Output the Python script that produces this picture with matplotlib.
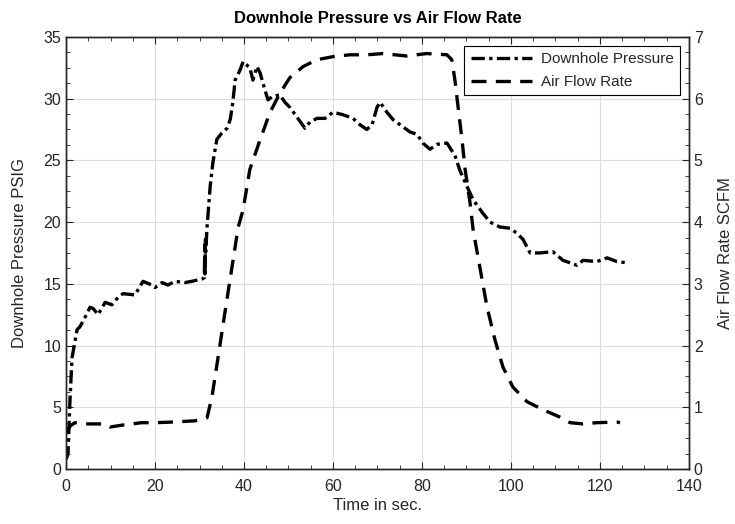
import numpy as np
import matplotlib.pyplot as plt
from matplotlib.ticker import AutoMinorLocator

plt.rcParams['font.family'] = ['Liberation Sans', 'DejaVu Sans']
TXT = '#262626'

# Downhole pressure [PSIG] vs time [s]
t_p = np.array([0, 0.45, 0.9, 1.35, 2.5, 3.1, 4.3, 5.4, 6.1, 7.2, 8.8, 10.3, 11.7, 12.8,
                15.5, 17.3, 19.3, 20, 21.6, 22.9, 24.5, 26.7, 28.3, 30.6, 31.1,
                31.15, 31.2, 31.25, 31.3, 31.35, 31.4, 31.7, 32.4, 33, 33.9, 35, 36.2,
                36.9, 37.5, 38, 39.1, 39.8, 41.3, 42, 42.9, 43.6, 44.7, 45.4, 46.5,
                48.1, 49.2, 50.3, 51.9, 53.7, 54.8, 56.4, 58.2, 60, 62.2, 64.5, 66,
                67.6, 68.8, 69.9, 70.6, 72.1, 73.5, 75, 77.3, 78.9, 80.2, 81.8, 83.4,
                85.6, 87.4, 88.5, 90.1, 91.5, 93.7, 95.3, 97.5, 99.8, 101.3, 102.7,
                104.3, 106.5, 109.4, 111.7, 114.8, 116.2, 119.3, 121.6, 123.8, 126])
pressure = np.array([0.8, 1.2, 5.6, 9.0, 11.3, 11.5, 12.3, 13.1, 13.0, 12.5, 13.5, 13.3,
                     13.9, 14.2, 14.1, 15.2, 14.9, 14.7, 15.1, 14.9, 15.2, 15.1, 15.2,
                     15.4, 15.5, 17.0, 15.8, 18.2, 16.4, 18.6, 17.6, 19.6, 22.9, 24.8,
                     26.7, 27.2, 27.6, 28.3, 29.7, 31.5, 32.3, 33.0, 32.5, 31.5, 32.6,
                     32.1, 30.7, 29.9, 30.2, 30.3, 29.7, 29.3, 28.5, 27.6, 28.1, 28.4,
                     28.4, 28.9, 28.7, 28.4, 27.9, 27.5, 27.9, 29.3, 29.7, 28.9, 28.3,
                     27.9, 27.3, 27.1, 26.4, 25.9, 26.3, 26.4, 25.4, 24.2, 22.9, 21.8,
                     20.7, 20.0, 19.6, 19.5, 19.1, 18.6, 17.5, 17.5, 17.6, 16.9, 16.5,
                     16.9, 16.8, 17.1, 16.8, 16.7])

# Air flow rate [SCFM] vs time [s]
t_q = np.array([0, 1, 2, 4.3, 7, 8.8, 9.9, 12.6, 17, 20, 23.8, 29, 31.7, 32.8, 34.2,
                35.7, 37.3, 38.7, 39.8, 41.3, 43.6, 45.8, 48.1, 50.3, 53.3, 56.4, 60,
                63.8, 67.6, 71.2, 76.6, 81, 85.6, 86.7, 87.4, 88.1, 89, 89.7, 90.8,
                91.5, 93, 94.6, 96.4, 98.2, 100.4, 103.6, 107.2, 111, 113.3, 116.2,
                119.3, 123.8, 124.5])
airflow = np.array([0.6, 0.7, 0.75, 0.73, 0.73, 0.73, 0.68, 0.71, 0.75, 0.75, 0.76,
                    0.78, 0.83, 1.17, 1.82, 2.53, 3.27, 3.92, 4.2, 4.85, 5.33, 5.77,
                    6.09, 6.34, 6.52, 6.63, 6.68, 6.71, 6.71, 6.73, 6.69, 6.73, 6.71,
                    6.63, 6.3, 5.87, 5.33, 4.85, 4.31, 3.87, 3.27, 2.63, 2.09, 1.65,
                    1.33, 1.09, 0.96, 0.84, 0.75, 0.73, 0.75, 0.76, 0.75])

fig = plt.figure(figsize=(7.35, 5.24), dpi=100)
ax = fig.add_axes([0.0898, 0.105, 0.8476, 0.8246])
ax2 = ax.twinx()

l1, = ax.plot(t_p, pressure, color='black', lw=2.4, dashes=(4, 1.3, 1, 1.3))
l2, = ax2.plot(t_q, airflow, color='black', lw=2.4, dashes=(4.5, 2.8))

ax.set_xlim(0, 140)
ax.set_ylim(0, 35)
ax2.set_ylim(0, 7)
ax.set_xticks(np.arange(0, 141, 20))
ax.set_yticks(np.arange(0, 36, 5))
ax2.set_yticks(np.arange(0, 8, 1))
for a in (ax, ax2):
    a.xaxis.set_minor_locator(AutoMinorLocator(4))
    a.yaxis.set_minor_locator(AutoMinorLocator(4))
    for s in a.spines.values():
        s.set_linewidth(1.0)
        s.set_color(TXT)
ax.tick_params(which='both', direction='in', top=True, labelsize=11.5, length=5,
               colors=TXT)
ax.tick_params(axis='x', pad=7)
ax.tick_params(which='minor', length=3)
ax2.tick_params(which='both', direction='in', labelsize=11.5, length=5, colors=TXT)
ax2.tick_params(which='minor', length=3)
ax.grid(True, color='#dcdcdc', lw=0.8)
ax.set_axisbelow(True)

ax.set_title('Downhole Pressure vs Air Flow Rate', fontsize=12, fontweight='bold',
             pad=10, color='black')
ax.set_xlabel('Time in sec.', fontsize=12, labelpad=3, color=TXT)
ax.set_ylabel('Downhole Pressure PSIG', fontsize=12, labelpad=12, color=TXT)
ax2.set_ylabel('Air Flow Rate SCFM', fontsize=12, labelpad=11, color=TXT)

leg = ax2.legend([l1, l2], ['Downhole Pressure', 'Air Flow Rate'], loc='upper right',
                 fontsize=11, frameon=True, fancybox=False, edgecolor='black',
                 framealpha=1, handlelength=4.0, labelspacing=0.6,
                 borderaxespad=0.6, handletextpad=0.6)
leg.get_frame().set_linewidth(0.8)
for txt in leg.get_texts():
    txt.set_color(TXT)

fig.savefig('out.png', dpi=100)
